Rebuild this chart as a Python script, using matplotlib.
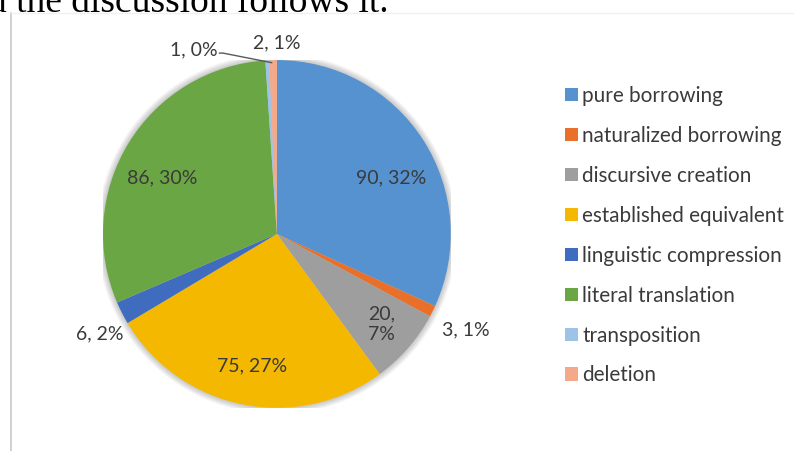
import matplotlib.pyplot as plt
from matplotlib.patches import Patch, Circle
from matplotlib.lines import Line2D

categories = ['pure borrowing', 'naturalized borrowing', 'discursive creation',
              'established equivalent', 'linguistic compression', 'literal translation',
              'transposition', 'deletion']
counts = [90, 3, 20, 75, 6, 86, 1, 2]
colors = ['#5592CF', '#E8702A', '#9E9E9E', '#F5B800', '#3F6CBF', '#6BA644',
          '#9DC3E6', '#F4A98A']
label_texts = ['90, 32%', '3, 1%', '20,\n7%', '75, 27%', '6, 2%', '86, 30%', '1, 0%', '2, 1%']
# label positions in pie units (radius = 1)
label_pos = [(0.655, 0.32), (1.086, -0.55), (0.60, -0.52), (-0.14, -0.76),
             (-1.02, -0.575), (-0.66, 0.32), (-0.48, 1.06), (0.0, 1.10)]

fig = plt.figure(figsize=(7.94, 4.51), dpi=100)
ax = fig.add_axes([0.1297, 0.0953, 0.438, 0.772])

# soft shadow around the pie
for i in range(6):
    ax.add_patch(Circle((0, 0), 1.0 + 0.006 * (i + 1), color='#000000',
                        alpha=0.035, lw=0, zorder=0))

wedges, _ = ax.pie(counts, colors=colors, startangle=90, counterclock=False,
                   wedgeprops=dict(linewidth=0))
ax.set_xlim(-1, 1)
ax.set_ylim(-1, 1)
ax.set_aspect('equal')
ax.axis('off')

for txt, (lx, ly) in zip(label_texts, label_pos):
    ax.text(lx, ly, txt, ha='center', va='center', fontsize=14, color='#3a3a3a',
            family='Lato', clip_on=False, linespacing=1.3)

# leader line for the tiny slice
ax.add_line(Line2D([-0.33, -0.31, -0.03], [1.04, 1.04, 0.985], color='#595959',
                   lw=1.0, clip_on=False))

handles = [Patch(facecolor=c, edgecolor='none') for c in colors]
fig.legend(handles, categories, loc='upper left', bbox_to_anchor=(0.712, 0.81),
           frameon=False, prop={'family': 'Lato', 'size': 14.9},
           handlelength=0.62, handleheight=0.62, handletextpad=0.2,
           labelspacing=0.965, borderpad=0, borderaxespad=0, labelcolor='#3a3a3a')

# page context: text above the figure and frame line
fig.text(-0.015, 0.9734, 'd the discussion follows it.', family='Liberation Serif',
         fontsize=27, va='baseline', ha='left', color='black')
fig.add_artist(Line2D([0.0135, 0.0135], [0, 0.971], color='#c8c8c8', lw=1.2))
fig.add_artist(Line2D([0.0135, 1], [0.971, 0.971], color='#f0f0f0', lw=1))

fig.savefig('out.png', dpi=100)
